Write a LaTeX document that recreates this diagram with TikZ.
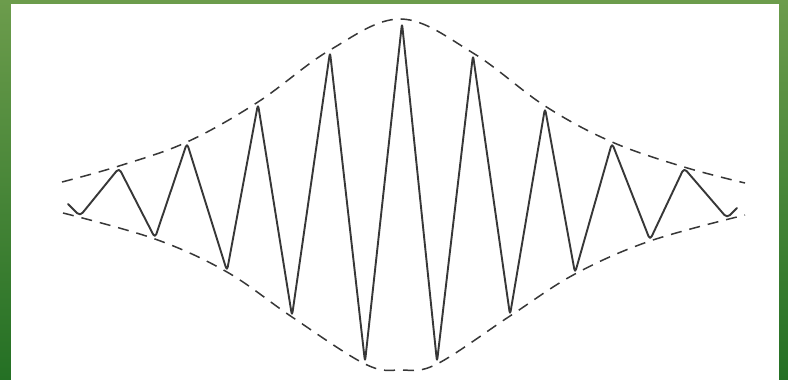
\documentclass[tikz,border=0pt]{standalone}
\definecolor{gtop}{RGB}{108,156,76}
\definecolor{gbot}{RGB}{36,112,36}
\definecolor{ink}{RGB}{55,55,55}
\tikzset{
  envelope/.style={ink, line width=1.5pt, dash pattern=on 11pt off 8pt},
  wave/.style={ink, line width=1.9pt, line join=round, line cap=round, rounded corners=4pt},
}
\begin{document}
\begin{tikzpicture}[x=1pt,y=-1pt]
\useasboundingbox (0,0) rectangle (788,380);
\shade[top color=gtop, bottom color=gbot] (0,0) rectangle (788,380);
\fill[white] (11,4) rectangle (779,380);
% envelopes
\draw[envelope] plot[smooth, tension=0.6] coordinates {(62,182) (119,166) (187,142) (258,102) (330,50) (401,19) (473,53) (545,106) (612,142) (684,167) (745,183)};
\draw[envelope] plot[smooth, tension=0.6] coordinates {(63,213) (155,239) (227,272) (292,317) (365,364) (401,370) (437,364) (510,316) (575,274) (650,241) (745,215)};
% wave
\coordinate (s) at (68,204);
\coordinate (e) at (737,208);
\draw[wave] (s) -- (80,216) -- (119,168) -- (155,238) -- (187,143) -- (227,271) -- (258,104) -- (292,316) -- (330,52) -- (365,362) -- (402,23) -- (437,362) -- (473,55) -- (510,315) -- (545,108) -- (575,273) -- (612,143) -- (650,240) -- (684,168) -- (727,218) -- (e);
\end{tikzpicture}
\end{document}
